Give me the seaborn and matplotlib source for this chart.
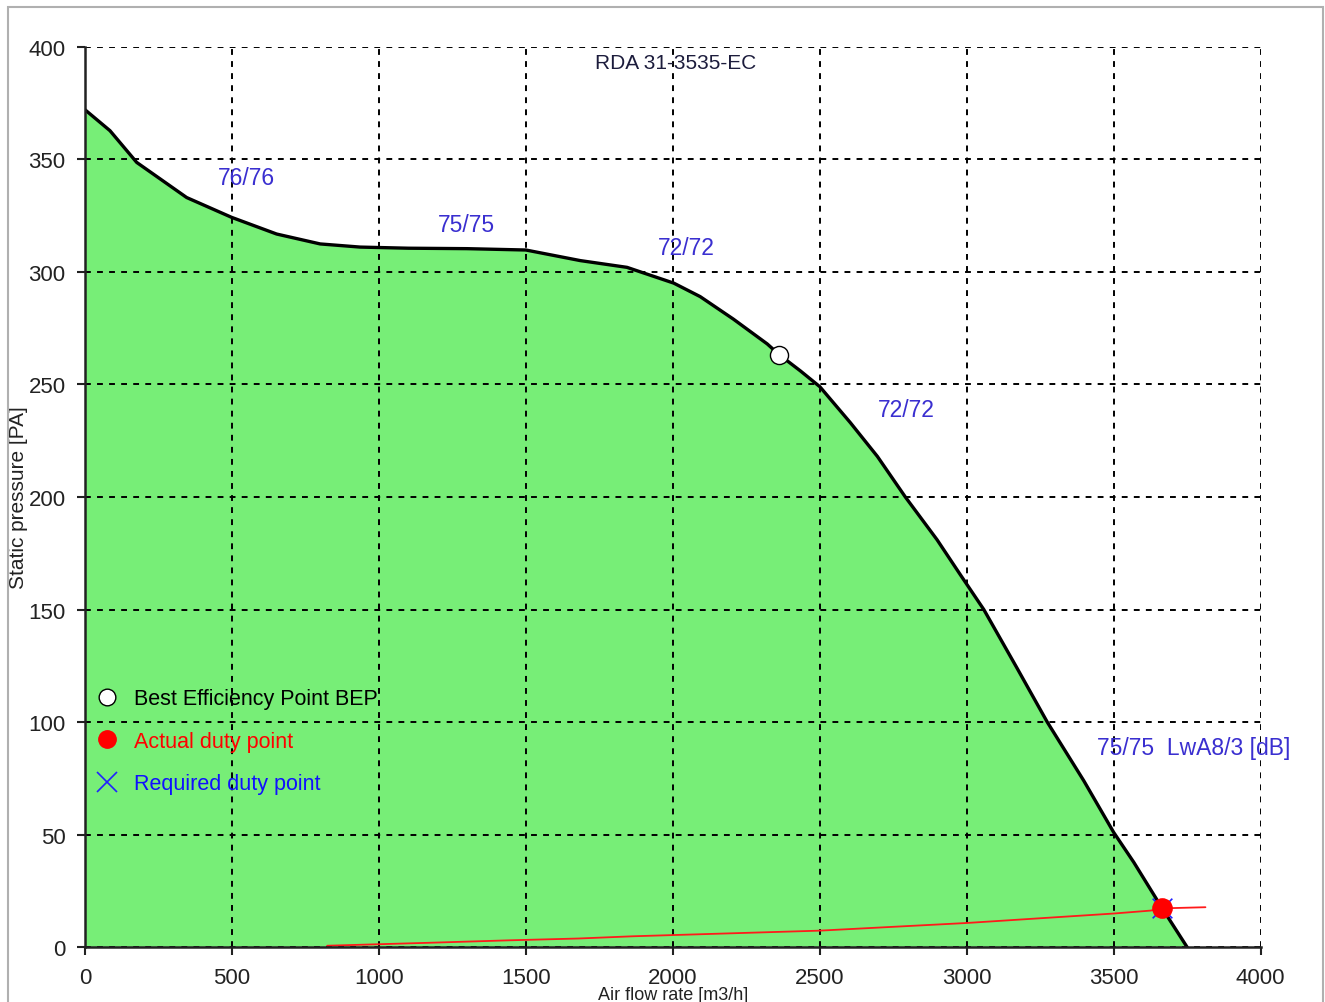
import matplotlib
matplotlib.use("Agg")
import matplotlib.pyplot as plt
import seaborn as sns
import pandas as pd
from matplotlib.lines import Line2D
from matplotlib.patches import Rectangle

# ---- data ----
fan_flow = [0, 85, 176, 346, 499, 652, 800, 936, 1100, 1300, 1500, 1685, 1844, 1912,
            2003, 2093, 2206, 2321, 2362, 2434, 2500, 2604, 2696, 2791, 2899, 2978,
            3058, 3171, 3274, 3398, 3500, 3568, 3665, 3750]
fan_pressure = [372, 362.7, 348.6, 333, 324.2, 316.8, 312.4, 311, 310.5, 310.3, 309.7,
                305, 302, 299, 295, 289, 279, 268, 263.2, 256, 249, 233, 218, 200,
                181, 165.5, 150, 124, 100, 74, 51, 37.8, 17.3, 0]

system_flow = [824, 1169, 1443, 1678, 1865, 2500, 3000, 3500, 3625, 3665, 3812]
system_pressure = [0.7, 2.0, 3.1, 3.9, 4.9, 7.4, 10.8, 15.0, 16.3, 17.3, 17.8]

bep_flow = [2362]
bep_pressure = [263.2]
duty_flow = [3665]
duty_pressure = [17.3]

noise_labels = ["76/76", "75/75", "72/72", "72/72", "75/75  LwA8/3 [dB]"]
noise_x = [548, 1297, 2046, 2794, 3771]
noise_y = [342, 321, 311, 239, 88.6]

x_ticks = [0, 500, 1000, 1500, 2000, 2500, 3000, 3500, 4000]
y_ticks = [0, 50, 100, 150, 200, 250, 300, 350, 400]

title_text = "RDA 31-3535-EC"
x_label = "Air flow rate [m3/h]"
y_label = "Static pressure [PA]"
legend_labels = ["Best Efficiency Point BEP", "Actual duty point", "Required duty point"]

# ---- style ----
sns.set_style("white")
plt.rcParams['font.family'] = ['Liberation Sans', 'DejaVu Sans']

fig = plt.figure(figsize=(13.25, 10.03), dpi=100)
ax = fig.add_axes([85 / 1325, 1 - 948.3 / 1003, (1260.7 - 85) / 1325, (948.3 - 47.7) / 1003])

# outer light frame
fig.patches.append(Rectangle((8 / 1325, -0.01), (1323 - 8) / 1325, (1003 - 8) / 1003 + 0.01,
                             transform=fig.transFigure, fill=False, edgecolor="#b0b0b0",
                             linewidth=1.5, zorder=0))

fan_df = pd.DataFrame({"flow": fan_flow, "pressure": fan_pressure})
sys_df = pd.DataFrame({"flow": system_flow, "pressure": system_pressure})

ax.fill_between(fan_df["flow"], 0, fan_df["pressure"], color="#77ee77", linewidth=0, zorder=1)
sns.lineplot(data=fan_df, x="flow", y="pressure", ax=ax, color="black", linewidth=2.4,
             sort=False, zorder=4)
sns.lineplot(data=sys_df, x="flow", y="pressure", ax=ax, color="#ff1a1a", linewidth=1.3,
             sort=False, zorder=4)

sns.scatterplot(x=duty_flow, y=duty_pressure, ax=ax, marker="x", color="#2020ff", s=200,
                linewidth=1.2, zorder=5)
sns.scatterplot(x=duty_flow, y=duty_pressure, ax=ax, marker="o", color="#ff0000", s=190,
                edgecolor="#ff0000", zorder=6)
sns.scatterplot(x=bep_flow, y=bep_pressure, ax=ax, marker="o", color="white", s=170,
                edgecolor="black", linewidth=1.0, zorder=6)

for lab, xx, yy in zip(noise_labels, noise_x, noise_y):
    ax.text(xx, yy, lab, color="#3a2fd0", fontsize=16.5, ha="center", va="center", zorder=7)

ax.text(0.502, 0.982, title_text, transform=ax.transAxes, ha="center", va="center",
        fontsize=15, color="#1c1c3c", zorder=7)

ax.set_xlim(0, 4000)
ax.set_ylim(0, 400)
ax.set_xticks(x_ticks)
ax.set_yticks(y_ticks)
ax.set_xticklabels([str(t) for t in x_ticks])
ax.set_yticklabels([str(t) for t in y_ticks])
ax.tick_params(axis="both", labelsize=16, colors="#222222", length=6, width=1.5,
               direction="out", pad=8, bottom=True, left=True)
ax.set_xlabel(x_label, fontsize=13, color="#222222", labelpad=-1)
ax.set_ylabel(y_label, fontsize=15, color="#222222")
ax.yaxis.set_label_coords(-57 / 1175.7, 0.5)

ax.grid(True, color="black", linestyle=(0, (3, 3.2)), linewidth=1.4, zorder=3)
ax.set_axisbelow(False)
for gl in ax.get_xgridlines() + ax.get_ygridlines():
    gl.set_zorder(3)

for side in ["top", "right"]:
    ax.spines[side].set_visible(False)
for side in ["left", "bottom"]:
    ax.spines[side].set_color("#222222")
    ax.spines[side].set_linewidth(1.8)
    ax.spines[side].set_zorder(8)

handles = [
    Line2D([], [], linestyle="none", marker="o", markersize=12, markerfacecolor="white",
           markeredgecolor="black", markeredgewidth=1.0),
    Line2D([], [], linestyle="none", marker="o", markersize=12.5, markerfacecolor="#ff0000",
           markeredgecolor="#ff0000"),
    Line2D([], [], linestyle="none", marker="x", markersize=14, markeredgecolor="#2020ff",
           markeredgewidth=1.2),
]
leg = ax.legend(handles, legend_labels, loc="upper left", bbox_to_anchor=(-0.0034, 0.3045),
                frameon=False, fontsize=15.5, handlelength=1.0, handletextpad=0.75,
                labelspacing=1.0, borderaxespad=0.3)
for txt, col in zip(leg.get_texts(), ["black", "#ff0000", "#1010ff"]):
    txt.set_color(col)
leg.set_zorder(9)

fig.savefig("out.png", dpi=100)
